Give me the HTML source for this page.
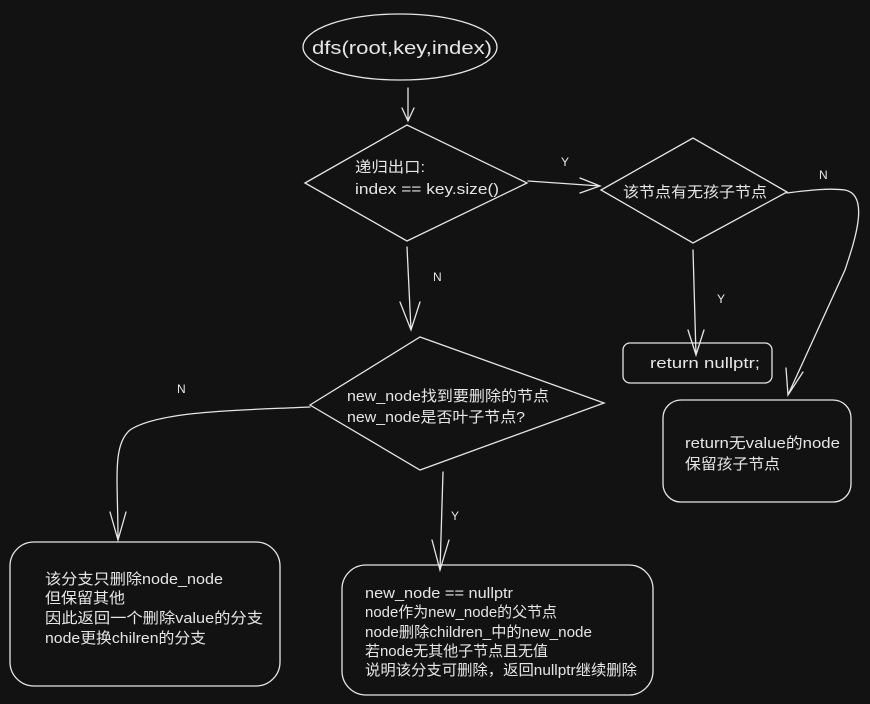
<!DOCTYPE html>
<html><head><meta charset="utf-8"><style>
html,body{margin:0;padding:0;background:#121212;}
svg{display:block}
text{fill:#e6e6e6;font-family:"Liberation Sans","Noto Sans CJK SC",sans-serif;font-size:15px;}
.l{font-size:12px}
</style></head><body>
<svg width="870" height="704" viewBox="0 0 870 704" xmlns="http://www.w3.org/2000/svg">
<rect width="870" height="704" fill="#121212"/>
<g fill="none" stroke="#e6e6e6" stroke-width="1.3" stroke-linecap="round">
<ellipse cx="400" cy="47" rx="97" ry="33"/>
<path d="M408 88 L408 120 M402 108 L408 121 L414 108"/>
<path d="M305 183 L407 125 L527 183 L407 241 Z"/>
<path d="M528 181 L600 186 M580 178 L600 186 L580 193"/>
<path d="M601 190 L693 138 L787 192 L693 243 Z"/>
<path d="M693 250 L696 355 M688 330 L696 355 L704 330"/>
<rect x="623" y="343" width="149" height="40" rx="7"/>
<path d="M787 193 C810 190 830 188 845 190 C870 195 855 240 845 270 L788 395 M786 368 L788 395 L803 372"/>
<rect x="663" y="400" width="188" height="102" rx="18"/>
<path d="M407 247 L411 330 M400 302 L411 330 L420 302"/>
<path d="M310 405 L420 337 L604 403 L420 470 Z"/>
<path d="M310 407 C250 410 160 410 130 430 C112 445 118 480 118 540 M110 512 L118 540 L126 512"/>
<rect x="10" y="542" width="270" height="144" rx="24"/>
<path d="M443 472 L440 570 M432 540 L440 570 L449 540"/>
<rect x="342" y="565" width="311" height="130" rx="24"/>
</g>
<text x="312" y="54" style="font-size:18px" textLength="180" lengthAdjust="spacingAndGlyphs">dfs(root,key,index)</text>
<text x="355" y="172" textLength="70" lengthAdjust="spacingAndGlyphs">递归出口:</text>
<text x="355" y="194" textLength="144" lengthAdjust="spacingAndGlyphs">index == key.size()</text>
<text class="l" x="561" y="166">Y</text>
<text x="623" y="197" textLength="144" lengthAdjust="spacingAndGlyphs">该节点有无孩子节点</text>
<text class="l" x="717" y="303">Y</text>
<text x="650" y="368" textLength="110" lengthAdjust="spacingAndGlyphs">return nullptr;</text>
<text class="l" x="819" y="179">N</text>
<text x="685" y="448" textLength="155" lengthAdjust="spacingAndGlyphs">return无value的node</text>
<text x="685" y="469" textLength="95" lengthAdjust="spacingAndGlyphs">保留孩子节点</text>
<text class="l" x="433" y="281">N</text>
<text x="347" y="401" textLength="202" lengthAdjust="spacingAndGlyphs">new_node找到要删除的节点</text>
<text x="347" y="422" textLength="178" lengthAdjust="spacingAndGlyphs">new_node是否叶子节点?</text>
<text class="l" x="177" y="393">N</text>
<text x="45" y="584" textLength="178" lengthAdjust="spacingAndGlyphs">该分支只删除node_node</text>
<text x="45" y="603" textLength="80" lengthAdjust="spacingAndGlyphs">但保留其他</text>
<text x="45" y="623" textLength="218" lengthAdjust="spacingAndGlyphs">因此返回一个删除value的分支</text>
<text x="45" y="643" textLength="161" lengthAdjust="spacingAndGlyphs">node更换chilren的分支</text>
<text class="l" x="451" y="520">Y</text>
<text x="365" y="598" textLength="148" lengthAdjust="spacingAndGlyphs">new_node == nullptr</text>
<text x="365" y="617" textLength="192" lengthAdjust="spacingAndGlyphs">node作为new_node的父节点</text>
<text x="365" y="637" textLength="227" lengthAdjust="spacingAndGlyphs">node删除children_中的new_node</text>
<text x="365" y="656" textLength="183" lengthAdjust="spacingAndGlyphs">若node无其他子节点且无值</text>
<text x="365" y="675" textLength="272" lengthAdjust="spacingAndGlyphs">说明该分支可删除，返回nullptr继续删除</text>
</svg>
</body></html>
